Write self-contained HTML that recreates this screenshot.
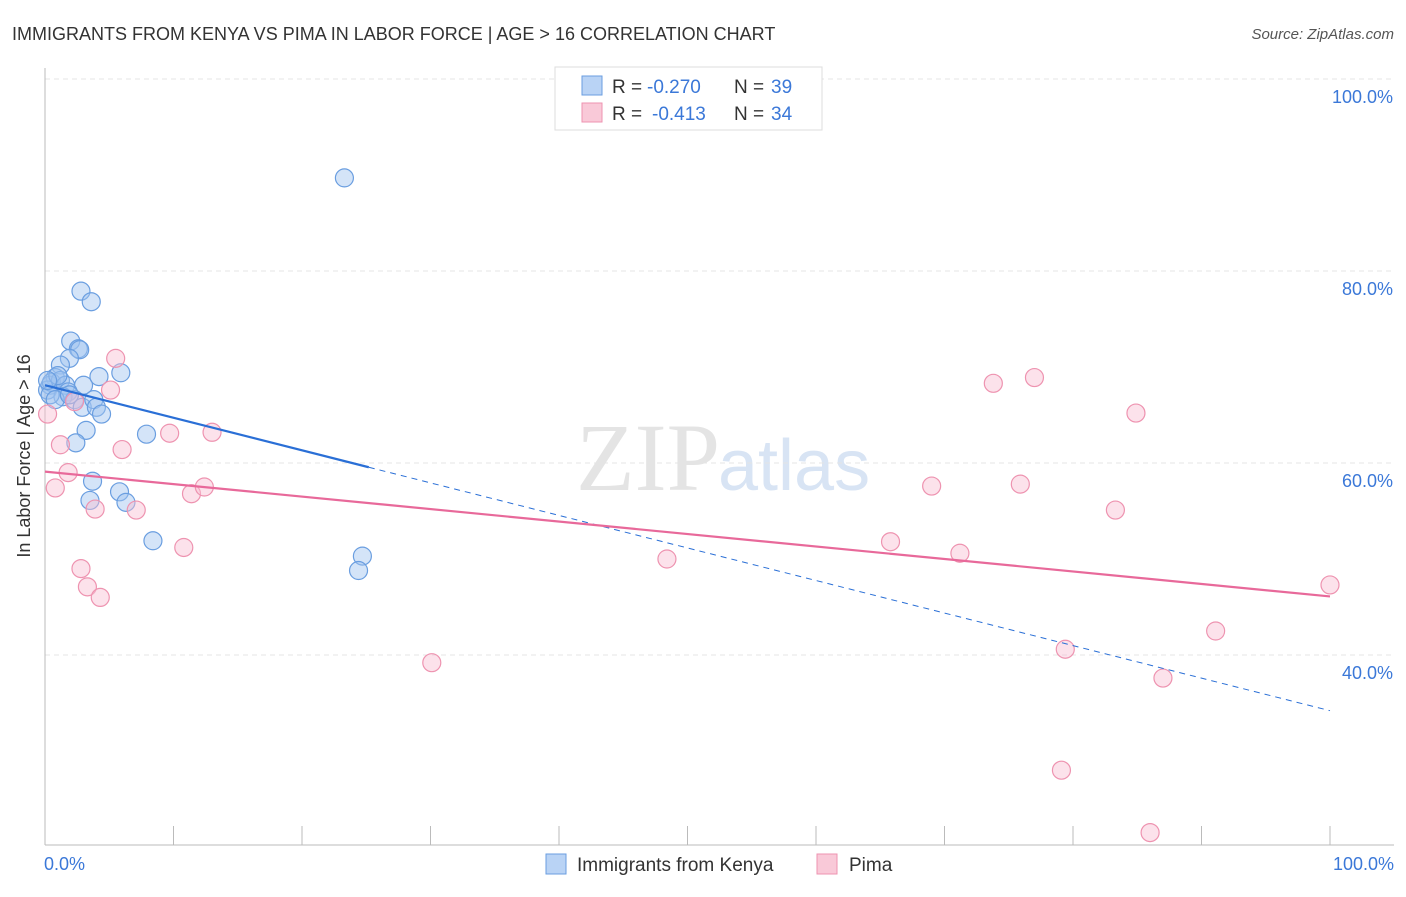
<!DOCTYPE html>
<html><head><meta charset="utf-8"><style>
body{margin:0;background:#fff;font-family:"Liberation Sans",sans-serif;}
</style></head><body>
<svg id="c" width="1406" height="892" xmlns="http://www.w3.org/2000/svg">
<text x="12" y="40" font-size="18" fill="#333">IMMIGRANTS FROM KENYA VS PIMA IN LABOR FORCE | AGE &gt; 16 CORRELATION CHART</text>
<text x="1394" y="39" font-size="15" fill="#555" font-style="italic" text-anchor="end">Source: ZipAtlas.com</text>
<text x="720" y="490" font-size="96" fill="#e4e4e4" font-family="Liberation Serif,serif" text-anchor="end">ZIP</text>
<text x="718" y="490" font-size="72" fill="#d8e4f4">atlas</text>
<g id="grid"></g><g id="axes"></g><g id="pts"></g><g id="lines"></g>
<g>
<rect x="555" y="67" width="267" height="63" fill="#fff" stroke="#ddd"/>
<rect x="582" y="76" width="20" height="19" fill="#b9d3f5" stroke="#6a9ee0"/>
<rect x="582" y="103" width="20" height="19" fill="#f9c9d8" stroke="#ee93b0"/>
<g font-size="19" fill="#333">
<text x="612" y="93">R =</text>
<text x="647" y="93" fill="#3b78d8">-0.270</text>
<text x="734" y="93">N =</text>
<text x="771" y="93" fill="#3b78d8">39</text>
<text x="612" y="120">R =</text>
<text x="652" y="120" fill="#3b78d8">-0.413</text>
<text x="734" y="120">N =</text>
<text x="771" y="120" fill="#3b78d8">34</text>
</g>
</g>
<g>
<rect x="546" y="854" width="20" height="20" fill="#b9d3f5" stroke="#6a9ee0"/>
<text x="577" y="871" font-size="19" fill="#333">Immigrants from Kenya</text>
<rect x="817" y="854" width="20" height="20" fill="#f9c9d8" stroke="#ee93b0"/>
<text x="849" y="871" font-size="19" fill="#333">Pima</text>
</g>
<text x="30" y="456" font-size="18" fill="#333" transform="rotate(-90 30 456)" text-anchor="middle">In Labor Force | Age &gt; 16</text>
</svg>
<script>
const yTicks=[100,80,60,40];
const xTickLabels=["0.0%","100.0%"];
const kenyaX=[2.8,3.6,2.0,2.6,2.7,1.9,1.2,0.8,0.4,0.2,0.5,1.2,1.6,3.0,4.2,5.9,1.8,1.4,2.3,2.9,3.8,4.0,4.4,3.2,7.9,2.4,3.7,3.5,5.8,6.3,8.4,24.7,24.4,23.3,0.4,0.8,1.9,1.0,0.2];
const kenyaY=[77.9,76.8,72.7,71.9,71.8,70.9,70.2,68.9,68.1,67.6,68.4,68.6,68.1,68.1,69.0,69.4,67.4,66.9,66.6,65.8,66.6,65.8,65.1,63.4,63.0,62.1,58.1,56.1,57.0,55.9,51.9,50.3,48.8,89.7,67.1,66.6,67.1,69.1,68.6];
const pimaX=[5.5,5.1,2.3,0.2,1.2,1.8,0.8,3.9,7.1,6.0,9.7,13.0,11.4,12.4,10.8,2.8,3.3,4.3,30.1,48.4,65.8,69.0,71.2,73.8,75.9,77.0,83.3,84.9,79.4,79.1,87.0,91.1,100,86.0];
const pimaY=[70.9,67.6,66.4,65.1,61.9,59.0,57.4,55.2,55.1,61.4,63.1,63.2,56.8,57.5,51.2,49.0,47.1,46.0,39.2,50.0,51.8,57.6,50.6,68.3,57.8,68.9,55.1,65.2,40.6,28.0,37.6,42.5,47.3,21.5];
const kenyaTrend=[68.1,34.2], kenyaSolidEnd=25.2;
const pimaTrend=[59.1,46.1];
const X=v=>45+v*12.85, Y=v=>1039-v*9.6;
const NS="http://www.w3.org/2000/svg";
function mk(p,t,a){const e=document.createElementNS(NS,t);for(const k in a)e.setAttribute(k,a[k]);document.getElementById(p).appendChild(e);return e;}
yTicks.forEach(t=>{
 const l=mk('grid','line',{x1:45,x2:1394,y1:Y(t),y2:Y(t),stroke:'#e4e4e4','stroke-dasharray':'5,4'});
 
 
 const tx=mk('grid','text',{x:1393,y:Y(t)+24,'font-size':18,fill:'#3b78d8','text-anchor':'end'});
 tx.textContent=t.toFixed(1)+'%';
 
 
});
let ax=mk('axes','line',{x1:45,x2:45,y1:68,y2:845,stroke:'#bbb'});


ax=mk('axes','line',{x1:45,x2:1394,y1:845,y2:845,stroke:'#bbb'});


for(let i=0;i<=10;i++){const t=mk('axes','line',{x1:X(i*10),x2:X(i*10),y1:826,y2:845,stroke:'#bbb'});
 
 }
[[X(0)-1,'start',0],[1394,'end',1]].forEach(([x,a,i])=>{const t=mk('axes','text',{x:x,y:870,'font-size':18,fill:'#3b78d8','text-anchor':a});t.textContent=xTickLabels[i];
 
 });
kenyaX.forEach((v,i)=>{const c=mk('pts','circle',{cx:X(v),cy:Y(kenyaY[i]),r:9,fill:'rgba(160,196,240,0.45)',stroke:'#6a9ee0','stroke-width':1.2});
 
 });
pimaX.forEach((v,i)=>{const c=mk('pts','circle',{cx:X(v),cy:Y(pimaY[i]),r:9,fill:'rgba(248,190,210,0.45)',stroke:'#ee93b0','stroke-width':1.2});
 
 });
const ky=x=>kenyaTrend[0]+(kenyaTrend[1]-kenyaTrend[0])*x/100;
let l=mk('lines','line',{x1:X(0),y1:Y(ky(0)),x2:X(kenyaSolidEnd),y2:Y(ky(kenyaSolidEnd)),stroke:'#2a6fd6','stroke-width':2.2});


l=mk('lines','line',{x1:X(kenyaSolidEnd),y1:Y(ky(kenyaSolidEnd)),x2:X(100),y2:Y(ky(100)),stroke:'#2a6fd6','stroke-width':1,'stroke-dasharray':'6,5'});


l=mk('lines','line',{x1:X(0),y1:Y(pimaTrend[0]),x2:X(100),y2:Y(pimaTrend[1]),stroke:'#e8699a','stroke-width':2.2});


</script>
</body></html>
